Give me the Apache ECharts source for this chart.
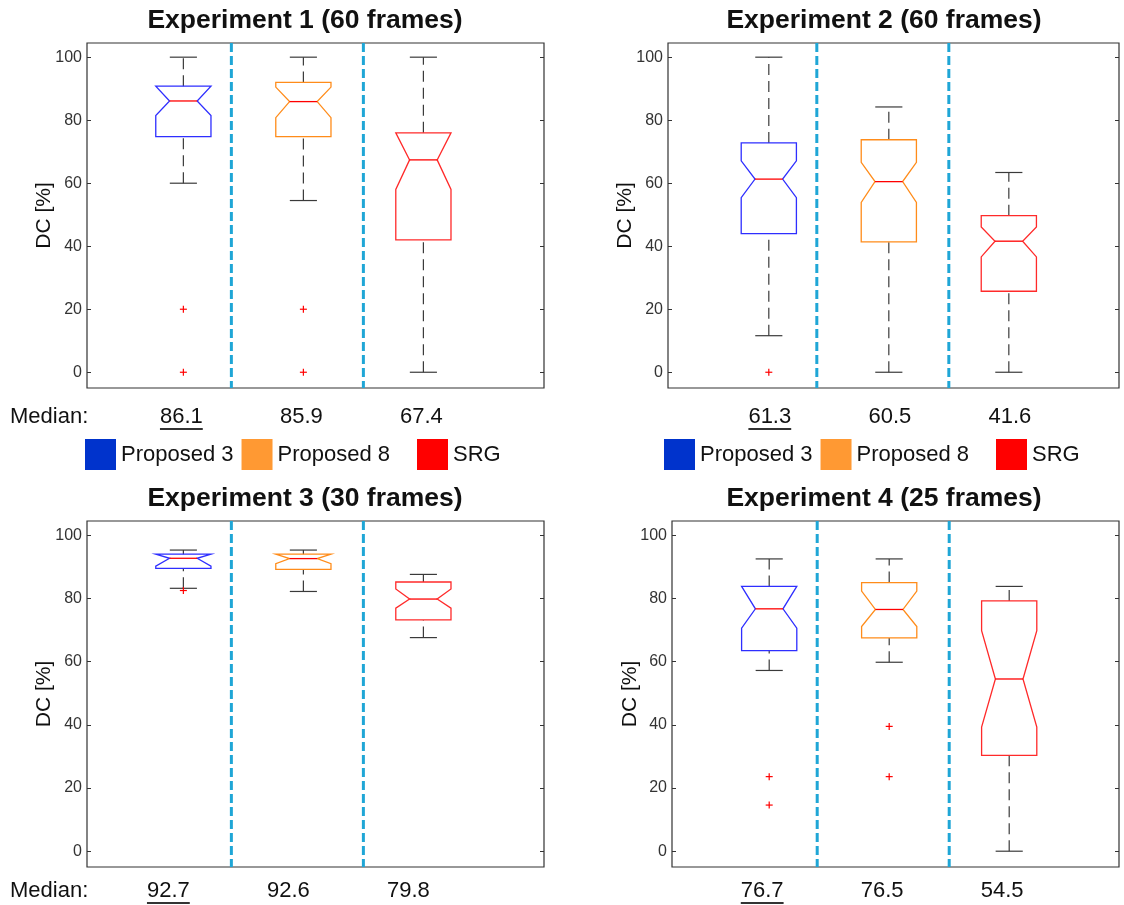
<!DOCTYPE html>
<html><head><meta charset="utf-8">
<script src="https://cdn.jsdelivr.net/npm/echarts@6/dist/echarts.min.js"></script>
<style>html,body{margin:0;padding:0;background:#fff}#c{width:1124px;height:905px}</style>
</head><body><div id="c"></div>
<script>
// ---------------- DATA ----------------
const groups = ['Proposed 3', 'Proposed 8', 'SRG'];
const titles = ['Experiment 1 (60 frames)', 'Experiment 2 (60 frames)', 'Experiment 3 (30 frames)', 'Experiment 4 (25 frames)'];
const yTicks = [0, 20, 40, 60, 80, 100];
const dividerPositions = [1.4, 2.5];
// stats: [whiskerLow, q1, median, q3, whiskerHigh, notchLow, notchHigh]
const exp1P3  = [60.0, 74.8, 86.1, 90.8, 100.0, 81.5, 90.8];
const exp1P8  = [54.5, 74.8, 85.9, 92.0, 100.0, 80.8, 90.5];
const exp1SRG = [0.0, 42.0, 67.4, 76.0, 100.0, 58.0, 76.0];
const exp1Outliers = [[1, 20], [1, 0], [2, 20], [2, 0]];

const exp2P3  = [11.6, 44.0, 61.3, 72.8, 100.0, 55.4, 67.1];
const exp2P8  = [0.0, 41.4, 60.5, 73.8, 84.2, 53.9, 66.6];
const exp2SRG = [0.0, 25.7, 41.6, 49.7, 63.4, 36.6, 46.1];
const exp2Outliers = [[1, 0]];

const exp3P3  = [83.2, 89.5, 92.7, 94.0, 95.3, 90.2, 94.0];
const exp3P8  = [82.2, 89.2, 92.6, 94.0, 95.3, 91.0, 94.0];
const exp3SRG = [67.6, 73.2, 79.8, 85.2, 87.6, 76.9, 83.0];
const exp3Outliers = [[1, 82.5]];

const exp4P3  = [57.2, 63.5, 76.7, 83.8, 92.5, 70.6, 83.8];
const exp4P8  = [59.8, 67.5, 76.5, 85.0, 92.5, 71.1, 82.3];
const exp4SRG = [0.0, 30.3, 54.5, 79.2, 83.8, 39.3, 69.8];
const exp4Outliers = [[1, 23.6], [1, 14.6], [2, 39.5], [2, 23.6]];

const experiments = [
  {stats: [exp1P3, exp1P8, exp1SRG], outliers: exp1Outliers},
  {stats: [exp2P3, exp2P8, exp2SRG], outliers: exp2Outliers},
  {stats: [exp3P3, exp3P8, exp3SRG], outliers: exp3Outliers},
  {stats: [exp4P3, exp4P8, exp4SRG], outliers: exp4Outliers}
];

// ---------------- STYLE / LAYOUT ----------------
const FONT = '"Liberation Sans", Arial, Helvetica, sans-serif';
const boxColors = ['#2e2eff', '#ff8c1a', '#ff2a2a'];
const legendColors = ['#0033cc', '#ff9933', '#ff0000'];
const medianColor = '#ff0000';
const whiskerColor = '#3a3a3a';
const dividerColor = '#1fa6d6';
const yMin = -5, yMax = 104.5;

const panels = [
  {grid: {left: 87, top: 43, width: 457, height: 345}, xMin: 0.197, xMax: 4.005, titleX: 305, titleY: 21, nameGap: 32, medDx: -2, medDy: 29, medWord: true, legendLefts: [85, 417], legendTop: 439},
  {grid: {left: 668, top: 43, width: 451, height: 345}, xMin: 0.16, xMax: 3.918, titleX: 884, titleY: 21, nameGap: 32, medDx: 1, medDy: 29, medWord: false, legendLefts: [664, 996], legendTop: 439},
  {grid: {left: 87, top: 521, width: 457, height: 346}, xMin: 0.197, xMax: 4.005, titleX: 305, titleY: 499, nameGap: 32, medDx: -15, medDy: 24, medWord: true, legendLefts: null},
  {grid: {left: 672, top: 521, width: 447, height: 346}, xMin: 0.19, xMax: 3.915, titleX: 884, titleY: 499, nameGap: 31, medDx: -7, medDy: 24, medWord: false, legendLefts: null}
];

const measureCtx = document.createElement('canvas').getContext('2d');
measureCtx.font = '22px ' + FONT;

function renderBox(params, api) {
  const x = api.value(0);
  const lo = api.value(1), q1 = api.value(2), med = api.value(3), q3 = api.value(4),
        hi = api.value(5), nlo = api.value(6), nhi = api.value(7);
  const ci = api.value(8);
  const halfW = 0.23, inset = halfW / 2, capHalf = 0.113;
  const c = (a, b) => api.coord([a, b]);
  const xl = x - halfW, xr = x + halfW;
  const pts = [[xl, q1], [xl, nlo], [xl + inset, med], [xl, nhi], [xl, q3],
               [xr, q3], [xr, nhi], [xr - inset, med], [xr, nlo], [xr, q1]].map(p => c(p[0], p[1]));
  const dashStyle = {stroke: whiskerColor, lineWidth: 1.2, lineDash: [11, 6]};
  const solid = {stroke: whiskerColor, lineWidth: 1.2};
  const line = (a, b, style) => ({type: 'line', shape: {x1: a[0], y1: a[1], x2: b[0], y2: b[1]}, style: style});
  return {
    type: 'group',
    children: [
      line(c(x, q3), c(x, hi), dashStyle),
      line(c(x, lo), c(x, q1), dashStyle),
      line(c(x - capHalf, hi), c(x + capHalf, hi), solid),
      line(c(x - capHalf, lo), c(x + capHalf, lo), solid),
      {type: 'polygon', shape: {points: pts}, style: {fill: 'none', stroke: boxColors[ci], lineWidth: 1.3}},
      line(c(xl + inset, med), c(xr - inset, med), {stroke: medianColor, lineWidth: 1.3})
    ]
  };
}

function renderPlus(params, api) {
  const p = api.coord([api.value(0), api.value(1)]);
  const s = 3.5;
  return {type: 'group', children: [
    {type: 'line', shape: {x1: p[0] - s, y1: p[1], x2: p[0] + s, y2: p[1]}, style: {stroke: '#ff0000', lineWidth: 1.2}},
    {type: 'line', shape: {x1: p[0], y1: p[1] - s, x2: p[0], y2: p[1] + s}, style: {stroke: '#ff0000', lineWidth: 1.2}}
  ]};
}

function renderDivider(params, api) {
  const cs = params.coordSys;
  const px = api.coord([api.value(0), 0])[0];
  return {type: 'line', shape: {x1: px, y1: cs.y, x2: px, y2: cs.y + cs.height},
    style: {stroke: dividerColor, lineWidth: 3, lineDash: [9, 4]}};
}

function makeMedianRenderer(panel, maxMedian) {
  return function (params, api) {
    const cs = params.coordSys;
    const v = api.value(1);
    const px = api.coord([api.value(0), 0])[0] + panel.medDx;
    const py = cs.y + cs.height + panel.medDy;
    const txt = v.toFixed(1);
    const children = [{type: 'text', x: px, y: py, style: {text: txt, fontSize: 22, fontFamily: FONT, fill: '#111', align: 'center', verticalAlign: 'middle'}}];
    if (v === maxMedian) {
      const w = measureCtx.measureText(txt).width;
      children.push({type: 'line', shape: {x1: px - w / 2, y1: py + 12, x2: px + w / 2, y2: py + 12}, style: {stroke: '#333', lineWidth: 2}});
    }
    return {type: 'group', children: children};
  };
}

// ---------------- BUILD OPTION ----------------
const grid = [], xAxis = [], yAxis = [], series = [], graphic = [], legend = [];

panels.forEach((p, i) => {
  grid.push(Object.assign({show: true, borderColor: '#333', borderWidth: 1.2, backgroundColor: '#fff'}, p.grid));
  xAxis.push({type: 'value', gridIndex: i, min: p.xMin, max: p.xMax, show: false});
  yAxis.push({
    type: 'value', gridIndex: i, position: 'left', min: yMin, max: yMax,
    axisLine: {show: false}, splitLine: {show: false},
    axisTick: {show: true, inside: true, length: 4, customValues: yTicks, lineStyle: {color: '#333'}},
    axisLabel: {customValues: yTicks, fontSize: 16, color: '#333', fontFamily: FONT, margin: 5},
    name: 'DC [%]', nameLocation: 'middle', nameGap: p.nameGap, nameMoveOverlap: false,
    nameTextStyle: {fontSize: 21, color: '#111', fontFamily: FONT}
  });
  yAxis.push({
    type: 'value', gridIndex: i, position: 'right', min: yMin, max: yMax,
    axisLine: {show: false}, splitLine: {show: false},
    axisTick: {show: true, inside: true, length: 4, customValues: yTicks, lineStyle: {color: '#333'}},
    axisLabel: {show: false}
  });
  const exp = experiments[i];
  const yi = 2 * i;
  series.push({
    type: 'custom', name: 'dividers' + i, xAxisIndex: i, yAxisIndex: yi, renderItem: renderDivider,
    data: dividerPositions.map(d => [d]), silent: true, z: 1
  });
  series.push({
    type: 'custom', name: 'boxes' + i, xAxisIndex: i, yAxisIndex: yi, renderItem: renderBox, silent: true, z: 3,
    data: exp.stats.map((s, k) => [k + 1].concat(s).concat([k]))
  });
  series.push({
    type: 'custom', name: 'outliers' + i, xAxisIndex: i, yAxisIndex: yi, renderItem: renderPlus, silent: true, z: 4,
    data: exp.outliers
  });
  const meds = exp.stats.map(s => s[2]);
  const maxMed = Math.max.apply(null, meds);
  series.push({
    type: 'custom', name: 'medians' + i, xAxisIndex: i, yAxisIndex: yi, clip: false,
    renderItem: makeMedianRenderer(p, maxMed), silent: true, z: 5,
    data: meds.map((m, k) => [k + 1, m])
  });
  graphic.push({type: 'text', x: p.titleX, y: p.titleY, style: {text: titles[i], fontSize: 26.5, fontWeight: 'bold', fontFamily: FONT, fill: '#111', align: 'center', verticalAlign: 'middle'}});
  if (p.medWord) {
    graphic.push({type: 'text', x: 10, y: p.grid.top + p.grid.height + p.medDy, style: {text: 'Median:', fontSize: 22, fontFamily: FONT, fill: '#111', align: 'left', verticalAlign: 'middle'}});
  }
  if (p.legendLefts) {
    const common = {
      top: p.legendTop, orient: 'horizontal', icon: 'rect',
      itemWidth: 31, itemHeight: 31, itemGap: 8, selectedMode: false, padding: 0,
      textStyle: {fontSize: 22, color: '#111', fontFamily: FONT}
    };
    legend.push(Object.assign({left: p.legendLefts[0], data: [groups[0], groups[1]]}, common));
    legend.push(Object.assign({left: p.legendLefts[1], data: [groups[2]]}, common));
  }
});

// legend-only series (colour swatches)
groups.forEach((g, k) => {
  series.push({type: 'scatter', name: g, xAxisIndex: 0, yAxisIndex: 0, data: [], itemStyle: {color: legendColors[k], opacity: 1}});
});

const chart = echarts.init(document.getElementById('c'), null, {renderer: 'canvas'});
chart.setOption({
  animation: false,
  backgroundColor: '#fff',
  grid: grid, xAxis: xAxis, yAxis: yAxis, series: series, legend: legend, graphic: graphic
});
</script>
</body></html>
